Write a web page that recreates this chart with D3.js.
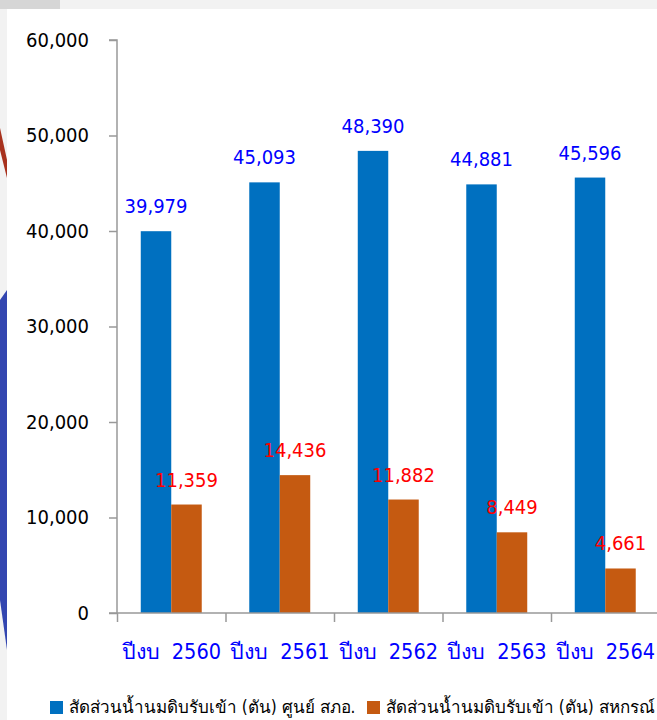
<!DOCTYPE html>
<html>
<head>
<meta charset="utf-8">
<script src="https://cdn.jsdelivr.net/npm/d3@7"></script>
<style>
  body { margin: 0; background: #fff; }
  svg text { font-family: "DejaVu Sans Condensed", "DejaVu Sans", "Noto Sans", sans-serif; }
</style>
</head>
<body>
<div id="graph"></div>
<script>
// chart data
var categories = ["ปีงบ  2560", "ปีงบ  2561", "ปีงบ  2562", "ปีงบ  2563", "ปีงบ  2564"];
var seriesNames = ["สัดส่วนน้ำนมดิบรับเข้า (ตัน) ศูนย์ สภอ.", "สัดส่วนน้ำนมดิบรับเข้า (ตัน) สหกรณ์"];
var centerValues = [39979, 45093, 48390, 44881, 45596];
var coopValues = [11359, 14436, 11882, 8449, 4661];
var yTicks = [0, 10000, 20000, 30000, 40000, 50000, 60000];

var colors = ["#0070C0", "#C55A11"];
var labelColors = ["#0000FF", "#FF0000"];

var width = 657, height = 720;
var margin = {top: 40, left: 117, bottom: 107};
var plotBottom = height - margin.bottom;

var svg = d3.select("#graph").append("svg")
    .attr("width", width)
    .attr("height", height);

// slide background bits peeking out at the edges
svg.append("rect").attr("width", width).attr("height", height).attr("fill", "#f2f2f2");
svg.append("rect").attr("x", 0).attr("y", 0).attr("width", 60).attr("height", 9).attr("fill", "#d6d6d6");
svg.append("path")
    .attr("d", "M0,128 L7,160 L7,178 L0,150 Z")
    .attr("fill", "#a8321e");
svg.append("path")
    .attr("d", "M0,300 L7,290 L7,650 L0,600 Z")
    .attr("fill", "#3346b0");
svg.append("rect")
    .attr("x", 7).attr("y", 9)
    .attr("width", width - 7).attr("height", height - 9)
    .attr("fill", "#fff");

var data = categories.map(function(c, i) {
    return {cat: c, values: [centerValues[i], coopValues[i]]};
});

var x0 = d3.scaleBand()
    .domain(categories)
    .range([margin.left, margin.left + 108.5 * categories.length])
    .paddingInner(0.438)
    .paddingOuter(0.219);

var x1 = d3.scaleBand()
    .domain([0, 1])
    .range([0, x0.bandwidth()]);

var y = d3.scaleLinear()
    .domain([0, 60000])
    .range([plotBottom, margin.top]);

// y axis
var yAxis = svg.append("g")
    .attr("transform", "translate(" + margin.left + ",0)")
    .call(d3.axisLeft(y)
        .tickValues(yTicks)
        .tickSize(8)
        .tickPadding(20)
        .tickFormat(d3.format(",")));
yAxis.select(".domain").attr("stroke", "#999").attr("stroke-width", 1.5)
    .attr("d", "M-8," + y(60000) + "H0V" + plotBottom);
yAxis.selectAll(".tick line").attr("stroke", "#999").attr("stroke-width", 1.5);
yAxis.selectAll("text").attr("fill", "#000").style("font-size", "20px");

// bars
var groups = svg.selectAll(".grp").data(data)
    .enter().append("g")
    .attr("class", "grp")
    .attr("transform", function(d) { return "translate(" + x0(d.cat) + ",0)"; });

groups.selectAll("rect").data(function(d) { return d.values; })
    .enter().append("rect")
    .attr("x", function(v, i) { return x1(i); })
    .attr("y", function(v) { return y(v); })
    .attr("width", x1.bandwidth())
    .attr("height", function(v) { return plotBottom - y(v); })
    .attr("fill", function(v, i) { return colors[i]; });

groups.selectAll("text").data(function(d) { return d.values; })
    .enter().append("text")
    .attr("x", function(v, i) { return x1(i) + x1.bandwidth() / 2; })
    .attr("y", function(v) { return y(v) - 18; })
    .attr("text-anchor", "middle")
    .attr("fill", function(v, i) { return labelColors[i]; })
    .style("font-size", "20px")
    .text(d3.format(","));

// x axis: ticks at category boundaries
var xEdge = d3.scaleLinear()
    .domain([0, categories.length])
    .range(x0.range());
var xAxis = svg.append("g")
    .attr("transform", "translate(0," + plotBottom + ")")
    .call(d3.axisBottom(xEdge).ticks(5).tickSize(9).tickFormat(""));
xAxis.select(".domain").attr("stroke", "#999").attr("stroke-width", 1.5)
    .attr("d", "M" + (margin.left - 8) + ",0H" + width);
xAxis.selectAll(".tick line").attr("stroke", "#999").attr("stroke-width", 1.5);

svg.append("g").selectAll("text").data(categories)
    .enter().append("text")
    .attr("x", function(c) { return x0(c) + x0.bandwidth() / 2; })
    .attr("y", 659)
    .attr("text-anchor", "middle")
    .attr("fill", "#0000FF")
    .style("font-size", "21.5px")
    .style("white-space", "pre")
    .text(function(c) { return c; });

// legend
var legendX = [50, 367];
var legend = svg.append("g").selectAll("g").data(seriesNames)
    .enter().append("g")
    .attr("transform", function(d, i) { return "translate(" + legendX[i] + ",701)"; });
legend.append("rect")
    .attr("width", 13).attr("height", 13)
    .attr("fill", function(d, i) { return colors[i]; });
legend.append("text")
    .attr("x", 19).attr("y", 12)
    .attr("fill", "#000")
    .style("font-size", "17px")
    .text(function(d) { return d; });
</script>
</body>
</html>
